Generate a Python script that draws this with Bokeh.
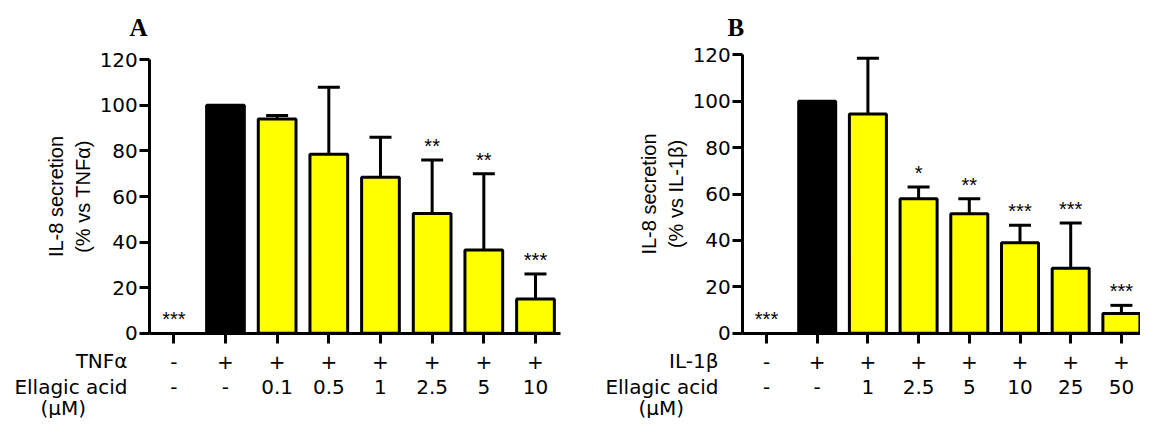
from bokeh.plotting import figure
from bokeh.models import Range1d, LinearAxis, FixedTicker, Label, Whisker, ColumnDataSource, TeeHead
from bokeh.layouts import row
from bokeh.embed import file_html
from bokeh.resources import INLINE
from bokeh.core.properties import value

# ---------------- data ----------------
positions = [1, 2, 3, 4, 5, 6, 7, 8]
y_ticks = [0, 20, 40, 60, 80, 100, 120]

a_title = "A"
a_stim_name = "TNFα"
a_ylabel = "IL-8 secretion\n(% vs TNFα)"
a_stim = ["-", "+", "+", "+", "+", "+", "+", "+"]
a_conc = ["-", "-", "0.1", "0.5", "1", "2.5", "5", "10"]
a_mean = [0, 100, 94, 78.5, 68.5, 52.5, 36.5, 15]
a_upper = [0, 100, 95.5, 108, 86, 76, 70, 26]
a_stars = ["***", "", "", "", "", "**", "**", "***"]

b_title = "B"
b_stim_name = "IL-1β"
b_ylabel = "IL-8 secretion\n(% vs IL-1β)"
b_stim = ["-", "+", "+", "+", "+", "+", "+", "+"]
b_conc = ["-", "-", "1", "2.5", "5", "10", "25", "50"]
b_mean = [0, 100, 94.5, 58, 51.5, 39, 28, 8.5]
b_upper = [0, 100, 118.5, 63, 58, 46.5, 47.5, 12]
b_stars = ["***", "", "", "*", "**", "***", "***", "***"]

conc_name = "Ellagic acid"
conc_unit = "(μM)"

FONT = "DejaVu Sans"        # wide sans for horizontally written text
YFONT = "Liberation Sans"   # rotated axis title
SERIF = "Liberation Serif"
FS = "20px"
YMAX = 120
HEIGHT = 418


def make_panel(title, stim_name, ylabel, stim, conc, mean, upper, stars,
               width, tick1_px, spacing, zero_px, top_px,
               axis_left_px, axis_right_px, title_px, row_right_px, unit_left_px):
    # figure-relative pixel geometry -> data coordinates
    k = (zero_px - top_px) / YMAX

    def fx(px):
        return 1 + (px - tick1_px) / spacing

    def fy(py):
        return (zero_px - py) / k

    p = figure(width=width, height=HEIGHT,
               x_range=Range1d(fx(0), fx(width)),
               y_range=Range1d(fy(HEIGHT), fy(0)),
               output_backend="svg", toolbar_location=None,
               x_axis_location=None, y_axis_location=None, min_border=0)
    p.outline_line_color = None
    p.background_fill_color = "white"
    p.border_fill_color = "white"
    for g in p.grid:
        g.visible = False

    x_lo = fx(axis_left_px)
    x_hi = fx(axis_right_px)

    # bars
    bx, btop, bfill = [], [], []
    for x, m, s, c in zip(positions, mean, stim, conc):
        if m > 0:
            bx.append(x)
            btop.append(m)
            bfill.append("black" if (s == "+" and c == "-") else "#FFFF00")
    p.vbar(x=bx, top=btop, bottom=0, width=0.73, fill_color=bfill,
           line_color="black", line_width=3)

    # error bars (upper only)
    ex = [x for x, m, u in zip(positions, mean, upper) if u > m]
    em = [m for m, u in zip(mean, upper) if u > m]
    eu = [u for m, u in zip(mean, upper) if u > m]
    src = ColumnDataSource(dict(x=ex, lower=em, upper=eu))
    p.add_layout(Whisker(source=src, base="x", lower="lower", upper="upper",
                         line_color="black", line_width=3,
                         upper_head=TeeHead(size=22, line_width=3, line_color="black"),
                         lower_head=None))

    # significance stars
    p.text(x=positions, y=upper, text=stars, text_align="center",
           text_baseline="alphabetic", y_offset=-14,
           text_font=value(YFONT), text_font_size="20px", text_color="black")

    # y axis
    ya = LinearAxis(fixed_location=x_lo, bounds=(0, YMAX),
                    ticker=FixedTicker(ticks=y_ticks),
                    axis_line_width=3, major_tick_line_width=3,
                    major_tick_out=10, major_tick_in=0,
                    minor_tick_line_color=None, major_label_standoff=2,
                    major_label_text_font=FONT, major_label_text_font_size=FS,
                    major_label_text_color="black",
                    axis_label=ylabel, axis_label_text_font=YFONT,
                    axis_label_text_font_size=FS,
                    axis_label_text_font_style="normal",
                    axis_label_text_line_height=1.25,
                    axis_label_text_color="black", axis_label_standoff=2)
    p.add_layout(ya, "left")

    # x axis (ticks only)
    xa = LinearAxis(fixed_location=0, bounds=(x_lo, x_hi),
                    ticker=FixedTicker(ticks=positions),
                    major_label_overrides={x: "" for x in positions},
                    axis_line_width=3, major_tick_line_width=3,
                    major_tick_out=10, major_tick_in=0,
                    minor_tick_line_color=None, major_label_standoff=0,
                    major_label_text_font_size="1px")
    p.add_layout(xa, "below")

    # label rows as extra axes under the bars
    for labels, standoff in ((stim, 22), (conc, 47)):
        ax = LinearAxis(fixed_location=0, ticker=FixedTicker(ticks=positions),
                        major_label_overrides=dict(zip(positions, labels)),
                        axis_line_color=None, major_tick_line_color=None,
                        major_tick_out=0, major_tick_in=0,
                        minor_tick_line_color=None,
                        major_label_standoff=standoff,
                        major_label_text_font=FONT,
                        major_label_text_font_size=FS,
                        major_label_text_color="black")
        p.add_layout(ax, "below")

    # row names, panel title
    common = dict(text_font=FONT, text_font_size=FS, text_color="black",
                  text_baseline="alphabetic")
    p.add_layout(Label(x=fx(row_right_px), y=fy(360), text=stim_name,
                       text_align="right", **common))
    p.add_layout(Label(x=fx(row_right_px), y=fy(386), text=conc_name,
                       text_align="right", **common))
    p.add_layout(Label(x=fx(unit_left_px), y=fy(407), text=conc_unit,
                       text_align="left", **common))
    p.add_layout(Label(x=fx(title_px), y=fy(27), text=title,
                       text_align="left", text_font=SERIF, text_font_size="25px",
                       text_font_style="bold", text_color="black",
                       text_baseline="alphabetic"))
    return p


WA = 590
WB = 550
pa = make_panel(a_title, a_stim_name, a_ylabel, a_stim, a_conc, a_mean, a_upper,
                a_stars, width=WA, tick1_px=173.3, spacing=51.67,
                zero_px=332.7, top_px=59.3, axis_left_px=149.3, axis_right_px=560,
                title_px=129, row_right_px=127, unit_left_px=40)
pb = make_panel(b_title, b_stim_name, b_ylabel, b_stim, b_conc, b_mean, b_upper,
                b_stars, width=WB, tick1_px=766 - WA, spacing=50.7,
                zero_px=332.7, top_px=54.3, axis_left_px=742.3 - WA,
                axis_right_px=WB, title_px=727 - WA, row_right_px=718 - WA,
                unit_left_px=638 - WA)

layout = row(pa, pb)
open("out.html", "w").write(file_html(layout, INLINE))
